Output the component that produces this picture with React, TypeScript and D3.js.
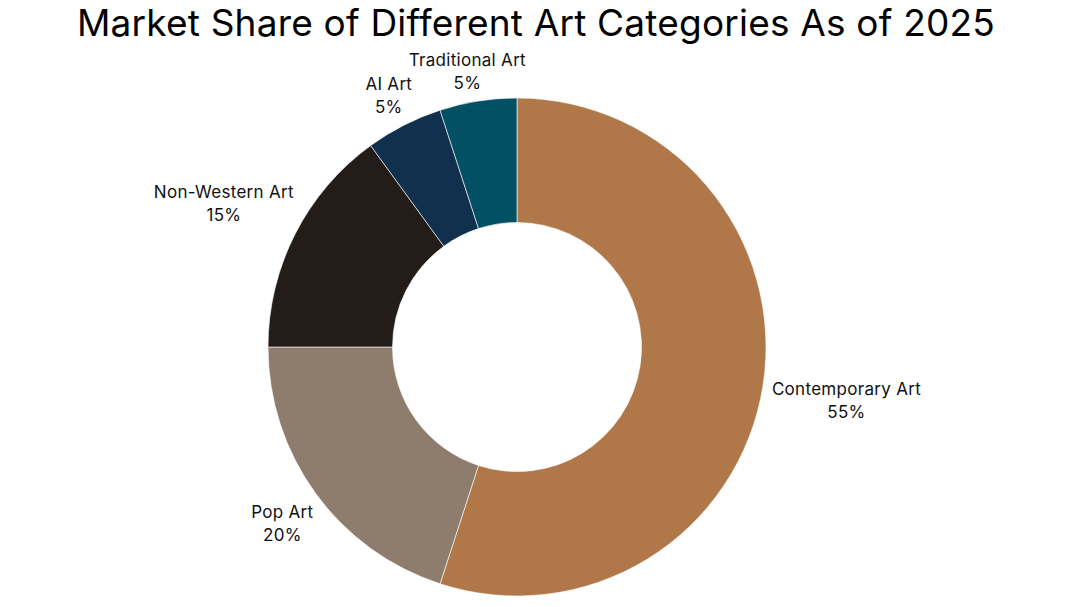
import { useMemo } from "react";
import * as d3 from "d3";

const categories = ["Contemporary Art", "Pop Art", "Non-Western Art", "AI Art", "Traditional Art"];
const shares = [55, 20, 15, 5, 5];
const colors = ["#B07849", "#8E7D6D", "#231C19", "#11304D", "#034F63"];

const WIDTH = 1080;
const HEIGHT = 607;
const FONT = "Inter, 'Open Sans', sans-serif";
const LABEL_SIZE = 17;
const LABEL_SPACING = 0.3;

let measureCtx: CanvasRenderingContext2D | null = null;
function textWidth(s: string, size: number) {
  if (!measureCtx) measureCtx = document.createElement("canvas").getContext("2d");
  if (!measureCtx) return s.length * size * 0.55;
  measureCtx.font = `${size}px ${FONT}`;
  return measureCtx.measureText(s).width + s.length * LABEL_SPACING;
}

export default function App() {
  const cx = 517;
  const cy = 347;
  const outerR = 249;
  const innerR = outerR * 0.5;

  const arcs = useMemo(() => {
    const pie = d3.pie<number>().sort(null).value((d) => d);
    return pie(shares);
  }, []);

  const arcGen = d3.arc<d3.PieArcDatum<number>>().innerRadius(innerR).outerRadius(outerR);

  return (
    <svg width={WIDTH} height={HEIGHT} style={{ display: "block", position: "absolute", left: 0, top: 0, background: "#fff" }}>
      <text x={536} y={36} textAnchor="middle" fontFamily={FONT} fontSize={37} letterSpacing={0.2} fill="#000">
        Market Share of Different Art Categories As of 2025
      </text>
      <g transform={`translate(${cx},${cy})`}>
        {arcs.map((a, i) => (
          <path key={i} d={arcGen(a) || ""} fill={colors[i]} stroke="#fff" strokeWidth={0.6} />
        ))}
        {arcs.map((a, i) => {
          const mid = (a.startAngle + a.endAngle) / 2;
          const s = Math.sin(mid);
          const c = Math.cos(mid);
          const lines = [categories[i], `${shares[i]}%`];
          const w = Math.max(...lines.map((l) => textWidth(l, LABEL_SIZE)));
          const px = outerR * s + s * (w / 2 + 10);
          const py = -outerR * c - Math.sign(c) * 30 * Math.min(1, 3 * Math.abs(c));
          const lh = 23;
          return (
            <text key={`l${i}`} textAnchor="middle" fontFamily={FONT} fontSize={LABEL_SIZE} letterSpacing={LABEL_SPACING} fill="#111">
              {lines.map((l, j) => (
                <tspan key={j} x={px} y={py + (j - 0.5) * lh + 6}>
                  {l}
                </tspan>
              ))}
            </text>
          );
        })}
      </g>
    </svg>
  );
}
